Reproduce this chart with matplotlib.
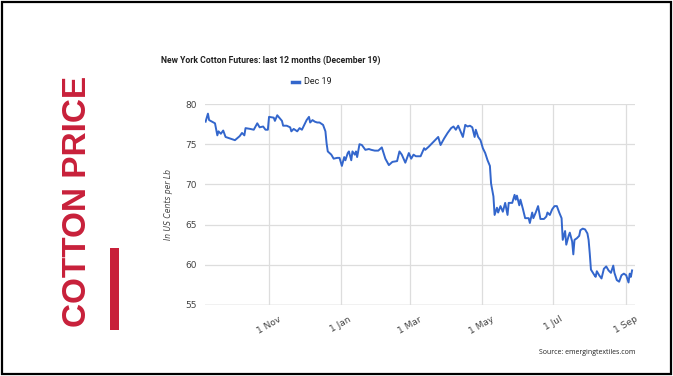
import datetime as dt
import numpy as np
import matplotlib.pyplot as plt
import matplotlib.dates as mdates
from matplotlib.patches import Rectangle

# Dec 19 contract, days counted from 1 Nov 2018, price in US cents per lb
days = [-54, -52, -51, -46, -44, -43, -41, -39, -37, -33, -29, -25, -23, -21, -20,
        -16, -13, -10, -8, -5, -3, -1, 0, 4, 5, 7, 11, 12, 15, 18, 19, 21, 24, 26,
        28, 30, 32, 34, 35, 37, 39, 41, 43, 46, 48, 49, 50, 53, 55, 58, 60, 62, 64,
        65, 67, 68, 70, 71, 73, 74, 75, 77, 79, 82, 85, 87, 90, 93,
        96, 99, 102, 105, 109, 111, 113, 116, 119, 121, 123, 125, 129, 132, 133,
        136, 140, 144, 146, 149, 152, 155, 157, 159, 161, 163, 165, 167, 169, 171,
        173, 175, 176, 178, 180, 182, 184, 186, 188, 189, 191, 192, 194, 195, 197,
        199, 201, 203, 204, 207, 209, 210, 211, 213, 214, 216, 218, 221, 222, 224,
        225, 227, 229, 231, 234, 236, 237, 239, 241, 243, 245, 247, 249, 250, 252,
        253, 255, 256, 258, 259, 260, 262, 264, 265, 267, 269, 271, 272, 273, 274,
        277, 278, 279, 281, 283, 285, 287, 289, 291, 293, 294, 296, 298, 300, 302,
        304, 306, 307, 308, 309]
price = [77.8, 78.8, 78.0, 77.6, 76.1, 76.6, 76.3, 76.7, 75.9, 75.7, 75.5, 76.0, 76.4, 76.1, 77.0,
         76.9, 76.8, 77.6, 77.1, 77.2, 76.8, 76.8, 78.4, 78.3, 77.9, 78.6, 77.9, 77.3, 77.3, 77.1, 76.6, 76.9, 76.6, 77.0,
         76.8, 77.4, 78.0, 78.4, 77.7, 78.0, 77.8, 77.7, 77.7, 77.4, 76.6, 75.1, 74.1, 73.7, 73.2, 73.3, 73.3, 72.3, 73.4,
         73.0, 73.9, 74.1, 73.0, 74.1, 73.7, 74.1, 73.4, 75.0, 74.9, 74.3, 74.4, 74.3, 74.2, 74.2,
         74.6, 73.2, 72.4, 72.8, 72.9, 74.1, 73.7, 72.7, 73.9, 73.2, 73.7, 73.5, 73.5, 74.5, 74.3,
         74.7, 75.3, 75.9, 74.9, 75.7, 76.4, 77.0, 77.2, 76.8, 77.3, 76.6, 75.9, 77.4, 77.2, 77.3,
         77.1, 75.9, 76.8, 75.9, 75.5, 74.5, 73.9, 73.0, 72.3, 70.1, 68.5, 66.2, 67.1, 66.5, 67.3,
         66.6, 67.7, 66.2, 67.7, 67.7, 68.7, 68.1, 68.6, 67.4, 68.1, 67.0, 65.8, 65.8, 65.2, 66.5,
         65.8, 66.5, 67.3, 65.7, 65.7, 66.0, 66.5, 66.2, 66.9, 67.3, 67.3, 66.5, 65.8, 63.1, 64.2,
         62.5, 63.6, 64.0, 62.9, 61.3, 63.1, 63.3, 63.6, 64.3, 64.5, 64.4, 63.9, 63.1, 61.4, 59.4,
         58.7, 58.5, 59.2, 58.7, 58.3, 59.5, 59.8, 59.3, 59.0, 59.9, 59.0, 58.1, 57.9, 58.7, 58.9,
         58.7, 57.8, 58.9, 58.5, 59.3]

tick_dates = ['2018-11-01', '2019-01-01', '2019-03-01', '2019-05-01', '2019-07-01', '2019-09-01']
tick_labels = ['1 Nov', '1 Jan', '1 Mar', '1 May', '1 Jul', '1 Sep']
y_ticks = [55, 60, 65, 70, 75, 80]

base = dt.datetime(2018, 11, 1)
dates = [base + dt.timedelta(days=d) for d in days]

W, H = 673, 376
fig = plt.figure(figsize=(W / 100, H / 100), dpi=100)
fig.patch.set_facecolor('white')

# outer black frame
fig.patches.append(Rectangle((2 / W, 2 / H), 1 - 4 / W, 1 - 4 / H, transform=fig.transFigure,
                             fill=False, edgecolor='black', lw=1.6))

ax = fig.add_axes([205 / W, 1 - 305 / H, 430 / W, 201 / H])
ax.plot(dates, price, color='#3366cc', lw=1.4, label='Dec 19')

ax.set_xlim(base + dt.timedelta(days=-54.5), base + dt.timedelta(days=311.5))
ax.set_ylim(55, 80)
ax.set_yticks(y_ticks)
ax.set_xticks([mdates.datestr2num(d) for d in tick_dates])
ax.set_xticklabels(tick_labels, rotation=30, ha='center')
ax.tick_params(axis='both', length=0, labelsize=6.5, labelcolor='#444444')
ax.tick_params(axis='x', pad=7)
ax.tick_params(axis='y', pad=6)
ax.grid(True, color='#dddddd', lw=0.9)
ax.set_axisbelow(True)
for s in ax.spines.values():
    s.set_visible(False)
ax.axhline(55, color='#cccccc', lw=1.0, zorder=0)

ax.set_ylabel('In US Cents per Lb', fontsize=5.5, style='italic', color='#444444', labelpad=9)

fig.text(161 / W, 1 - 60 / H, 'New York Cotton Futures: last 12 months (December 19)',
         fontsize=6.2, fontweight='bold', family='Roboto', color='#222222', va='center')

# legend
fig.lines.append(plt.Line2D([292 / W, 299 / W], [1 - 82 / H, 1 - 82 / H], transform=fig.transFigure,
                            color='#3366cc', lw=2.5))
fig.text(304 / W, 1 - 82 / H, 'Dec 19', fontsize=6.5, color='#222222', va='center', family='Roboto')

# side title
fig.text(77 / W, 1 - 201 / H, 'COTTON PRICE', rotation=90, fontsize=24, fontweight='bold',
         family='Liberation Sans', color='#c8203a', ha='center', va='center')
fig.patches.append(Rectangle((110 / W, 1 - 330 / H), 9 / W, 82 / H, transform=fig.transFigure,
                             color='#c8203a', lw=0))

fig.text(635 / W, 1 - 353 / H, 'Source: emergingtextiles.com', fontsize=5, color='#222222',
         ha='right', va='center', family='Open Sans')

fig.savefig('out.png', dpi=100)
